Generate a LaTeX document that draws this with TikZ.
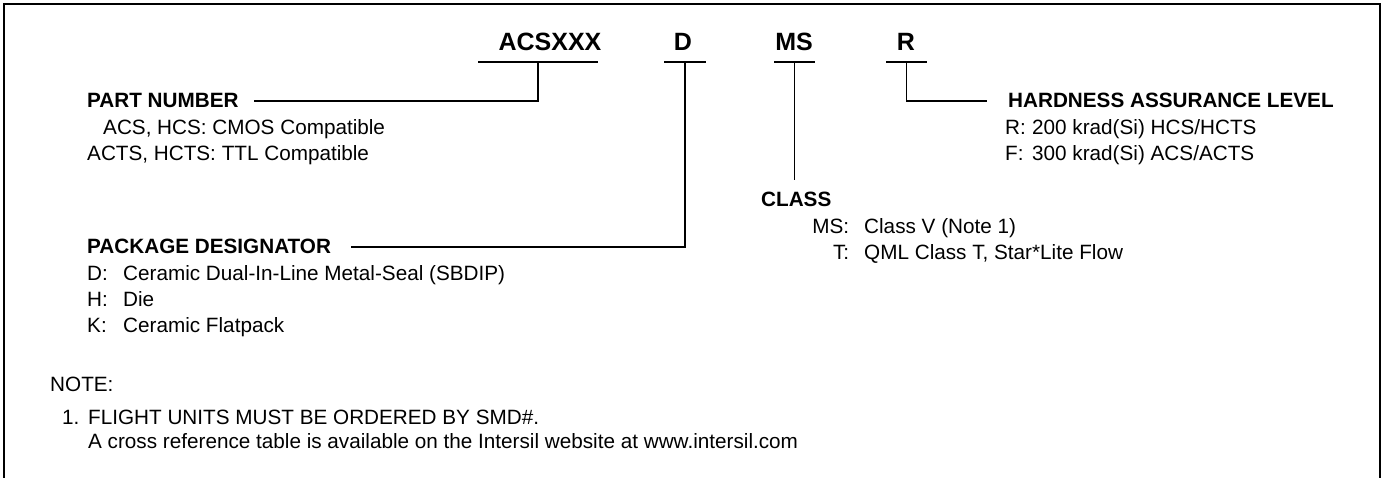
\documentclass[tikz,border=0pt]{standalone}
\usepackage{fontspec}
\setmainfont{Liberation Sans}
\tikzset{
    code/.style={font=\fontsize{25}{28}\selectfont\bfseries, inner sep=0pt, anchor=base},
    head/.style={font=\fontsize{20.7}{24}\selectfont\bfseries, inner sep=0pt, anchor=base west},
    txt/.style={font=\fontsize{20.7}{24}\selectfont, inner sep=0pt, anchor=base west},
    lead/.style={line width=1.9pt},
}
\newcommand{\tag}[2]{\makebox[#1][l]{#2}}

\begin{document}
\begin{tikzpicture}[x=1pt, y=-1pt]
            \useasboundingbox (0,0) rectangle (1384,478);
            \draw[line width=2.8pt] (4,478) -- (4,4) -- (1380,4) -- (1380,478);
            \node[code] (acs) at (550,51) {ACSXXX};
            \node[code] (pkg) at (683,51) {D};
            \node[code] (cls) at (794,51) {MS};
            \node[code] (rad) at (906,51) {R};
            \coordinate (acsbar) at (538,62);
            \coordinate (pkgbar) at (685,62);
            \coordinate (clsbar) at (794.5,62);
            \coordinate (radbar) at (906.5,62);
            \draw[lead] (478,62) -- (598,62) (664,62) -- (706,62) (774,62) -- (815,62) (886,62) -- (927,62);
            \node[head] (partno) at (87,108) {PART NUMBER};
            \node[txt] (partA) at (103,135) {ACS, HCS: CMOS Compatible};
            \node[txt] (partB) at (87,161) {ACTS, HCTS: TTL Compatible};
            \node[head] (hard) at (1008,108) {HARDNESS ASSURANCE LEVEL};
            \node[txt] (hardR) at (1005,135) {\tag{27pt}{R:}200 krad(Si) HCS/HCTS};
            \node[txt] (hardF) at (1005,161) {\tag{27pt}{F:}300 krad(Si) ACS/ACTS};
            \node[head] (class) at (761,207) {CLASS};
            \node[txt] (classMS) at (812,234) {\makebox[37pt][r]{MS:}\hspace{15pt}Class V (Note 1)};
            \node[txt] (classT) at (812,260) {\makebox[37pt][r]{T:}\hspace{15pt}QML Class T, Star*Lite Flow};
            \node[head] (pkgdes) at (87,254) {PACKAGE DESIGNATOR};
            \node[txt] (pkgD) at (87,281) {\tag{36pt}{D:}Ceramic Dual-In-Line Metal-Seal (SBDIP)};
            \node[txt] (pkgH) at (87,307) {\tag{36pt}{H:}Die};
            \node[txt] (pkgK) at (87,333) {\tag{36pt}{K:}Ceramic Flatpack};
            \node[txt] (note) at (50,391) {NOTE:};
            \node[txt] (noteA) at (62,424) {\tag{26pt}{1.}FLIGHT UNITS MUST BE ORDERED BY SMD\#.};
            \node[txt] (noteB) at (88,448) {A cross reference table is available on the Intersil website at www.intersil.com};
            \draw[lead] (acsbar) |- ([xshift=15pt]partno.east);
            \draw[lead] (pkgbar) |- ([xshift=20pt]pkgdes.east);
            \draw[lead] (clsbar) -- ([yshift=12pt]class.north -| clsbar);
            \draw[lead] (radbar) |- ([xshift=-21pt]hard.west);
\end{tikzpicture}
\end{document}
